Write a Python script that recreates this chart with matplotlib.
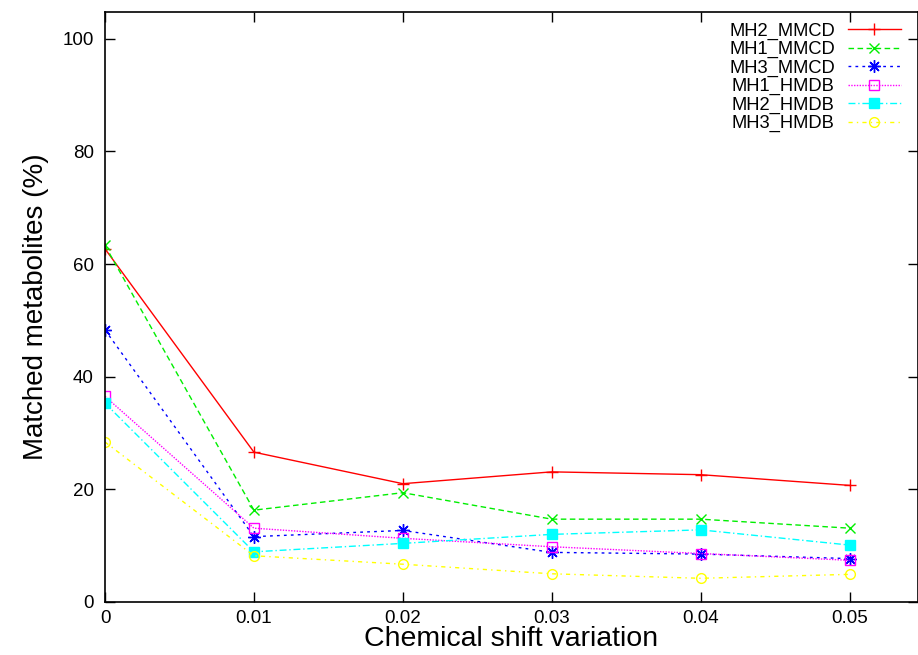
import matplotlib
matplotlib.use("Agg")
import matplotlib.pyplot as plt

plt.rcParams['font.family'] = ['Liberation Sans', 'DejaVu Sans']

# chemical shift variation steps
shifts = [0, 0.01, 0.02, 0.03, 0.04, 0.05]

# matched metabolites (%)
mh2_mmcd = [62.7, 26.6, 21.0, 23.1, 22.6, 20.7]
mh1_mmcd = [63.3, 16.3, 19.4, 14.7, 14.7, 13.1]
mh3_mmcd = [48.3, 11.6, 12.7, 8.8, 8.5, 7.7]
mh1_hmdb = [36.5, 13.1, 11.3, 9.8, 8.6, 7.4]
mh2_hmdb = [35.3, 8.9, 10.4, 12.0, 12.8, 10.1]
mh3_hmdb = [28.4, 8.2, 6.7, 5.0, 4.2, 4.9]

xticks = [0, 0.01, 0.02, 0.03, 0.04, 0.05]
xtick_labels = ['0', '0.01', '0.02', '0.03', '0.04', '0.05']
yticks = [0, 20, 40, 60, 80, 100]

fig = plt.figure(figsize=(9.18, 6.55), dpi=100)
ax = fig.add_axes([0.1144, 0.081, 0.8856, 0.901])

lw = 1.0
ax.plot(shifts, mh2_mmcd, color='#ff0000', ls='-', lw=lw, marker='+', ms=9,
        mew=1.0, label='MH2_MMCD')
ax.plot(shifts, mh1_mmcd, color='#00ee00', ls=(0, (4, 2.5)), lw=lw, marker='x', ms=7,
        mew=1.0, label='MH1_MMCD')
ax.plot(shifts, mh3_mmcd, color='#0000ff', ls=(0, (2, 3)), lw=lw, marker=(8, 2, 0), ms=9,
        mew=1.0, label='MH3_MMCD')
ax.plot(shifts, mh1_hmdb, color='#ff00ff', ls=(0, (1, 1)), lw=lw, marker='s', ms=7,
        mfc='none', mew=1.0, label='MH1_HMDB')
ax.plot(shifts, mh2_hmdb, color='#00ffff', ls=(0, (5, 2, 1, 2)), lw=lw, marker='s', ms=7,
        mew=1.0, label='MH2_HMDB')
ax.plot(shifts, mh3_hmdb, color='#ffff00', ls=(0, (3, 3, 1, 3)), lw=lw, marker='o', ms=7,
        mfc='none', mew=1.0, label='MH3_HMDB')

ax.set_xlim(0, 0.0546)
ax.set_ylim(0, 104.8)
ax.set_xticks(xticks)
ax.set_xticklabels(xtick_labels)
ax.set_yticks(yticks)
ax.tick_params(direction='in', length=7, width=1, top=True, right=True,
               labelsize=13.5, pad=8)
ax.tick_params(axis='x', pad=6)
for s in ax.spines.values():
    s.set_linewidth(1.2)

ax.set_xlabel('Chemical shift variation', fontsize=20.5, labelpad=-1)
ax.set_ylabel('Matched metabolites (%)', fontsize=20, labelpad=10)

ax.legend(loc='upper right', bbox_to_anchor=(0.9924, 1.0), frameon=False,
          markerfirst=False, fontsize=13.2, labelspacing=0.07,
          handlelength=2.9, handletextpad=0.7, borderaxespad=0.2)

fig.savefig('out.png', dpi=100)
